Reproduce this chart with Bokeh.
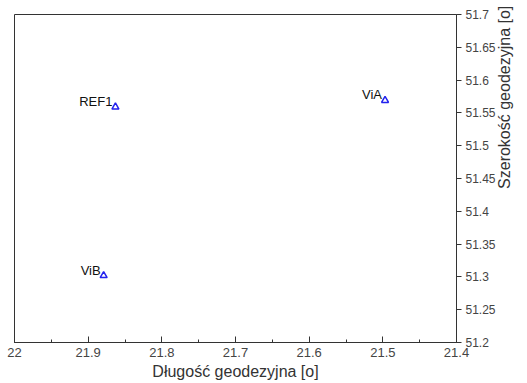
import math
from bokeh.plotting import figure
from bokeh.models import Range1d, FixedTicker, ColumnDataSource, LinearAxis
from bokeh.embed import file_html
from bokeh.resources import INLINE

names = ["ViA", "REF1", "ViB"]
lons = [21.497, 21.863, 21.879]
lats = [51.569, 51.559, 51.302]

x_ticks = [21.4, 21.5, 21.6, 21.7, 21.8, 21.9, 22.0]
x_tick_labels = ["21.4", "21.5", "21.6", "21.7", "21.8", "21.9", "22"]
x_minor = [21.4, 21.45, 21.5, 21.55, 21.6, 21.65, 21.7, 21.75, 21.8, 21.85, 21.9, 21.95, 22.0]
y_ticks = [51.2, 51.25, 51.3, 51.35, 51.4, 51.45, 51.5, 51.55, 51.6, 51.65, 51.7]
y_tick_labels = ["51.2", "51.25", "51.3", "51.35", "51.4", "51.45", "51.5", "51.55", "51.6", "51.65", "51.7"]

x_title = "Długość geodezyjna [o]"
y_title = "Szerokość geodezyjna [o]"

FONT = "Liberation Sans"
X_MIN, X_MAX = 21.4, 22.0
Y_MIN, Y_MAX = 51.2, 51.7
Y_MID = round((Y_MIN + Y_MAX) / 2, 3)

p = figure(width=527, height=383, output_backend="svg", toolbar_location=None,
           x_range=Range1d(X_MAX, X_MIN), y_range=Range1d(Y_MIN, Y_MAX),
           x_axis_location="below", y_axis_location="right",
           min_border_left=14, min_border_top=14, min_border_right=71, min_border_bottom=41)
p.grid.visible = False
p.outline_line_color = "#333333"
p.outline_line_width = 1
p.background_fill_color = "white"
p.border_fill_color = "white"

xa = p.xaxis[0]
xa.ticker = FixedTicker(ticks=x_ticks, minor_ticks=x_minor)
xa.major_label_overrides = {t: l for t, l in zip(x_ticks, x_tick_labels)}
xa.major_tick_in = 6
xa.major_tick_out = 0
xa.minor_tick_in = 3
xa.minor_tick_out = 0
xa.axis_label = x_title

ya = p.yaxis[0]
ya.ticker = FixedTicker(ticks=y_ticks, minor_ticks=[])
ya.major_label_overrides = {t: l for t, l in zip(y_ticks, y_tick_labels)}
ya.major_tick_in = 0
ya.major_tick_out = 5
ya.minor_tick_in = 0
ya.minor_tick_out = 0

for ax in (xa, ya):
    ax.axis_line_color = "#333333"
    ax.major_tick_line_color = "#333333"
    ax.minor_tick_line_color = "#333333"
    ax.major_label_text_font = FONT
    ax.major_label_text_font_size = "13px"
    ax.major_label_text_color = "#444444"
    ax.axis_label_text_font = FONT
    ax.axis_label_text_font_size = "16px"
    ax.axis_label_text_font_style = "normal"
    ax.axis_label_text_color = "#333333"

ya.major_label_text_font_size = "12px"
xa.axis_label_standoff = 3
xa.major_label_standoff = 5
ya.major_label_standoff = 4

# y-axis title as a single centred label on a bare extra axis (reads bottom-to-top)
title_axis = LinearAxis(ticker=FixedTicker(ticks=[Y_MID], minor_ticks=[]),
                        major_label_overrides={Y_MID: y_title},
                        major_label_orientation=math.pi / 2,
                        axis_line_color=None, major_tick_line_color=None,
                        minor_tick_line_color=None,
                        major_tick_in=0, major_tick_out=0, minor_tick_in=0, minor_tick_out=0,
                        major_label_standoff=6,
                        major_label_text_font=FONT, major_label_text_font_size="16px",
                        major_label_text_color="#333333")
p.add_layout(title_axis, "right")

src = ColumnDataSource(data=dict(x=lons, y=lats, name=names))
p.scatter("x", "y", source=src, marker="triangle", size=7, fill_color=None,
          line_color="#2222ee", line_width=1.5)
p.text("x", "y", text="name", source=src, text_align="right", text_baseline="bottom",
       x_offset=-3, y_offset=2, text_font_size="13px", text_color="#111111",
       text_font={"value": FONT})

open("out.html", "w").write(file_html(p, INLINE))
